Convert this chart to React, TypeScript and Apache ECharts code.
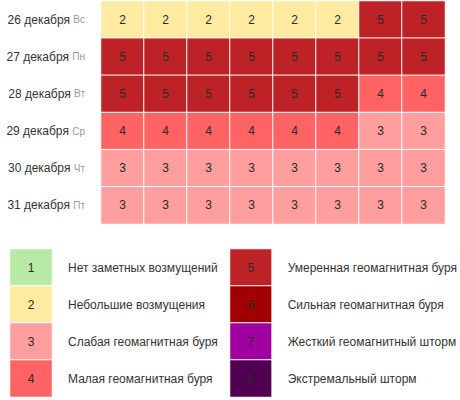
import React, { useEffect, useRef } from "react";
import * as echarts from "echarts";

const dates = ["26 декабря", "27 декабря", "28 декабря", "29 декабря", "30 декабря", "31 декабря"];
const weekdays = ["Вс", "Пн", "Вт", "Ср", "Чт", "Пт"];
const slots = ["1", "2", "3", "4", "5", "6", "7", "8"];
const kpIndex: number[][] = [
  [2, 2, 2, 2, 2, 2, 5, 5],
  [5, 5, 5, 5, 5, 5, 5, 5],
  [5, 5, 5, 5, 5, 5, 4, 4],
  [4, 4, 4, 4, 4, 4, 3, 3],
  [3, 3, 3, 3, 3, 3, 3, 3],
  [3, 3, 3, 3, 3, 3, 3, 3],
];
const levels = [1, 2, 3, 4, 5, 6, 7, 8];
const levelColors = ["#b8e9a5", "#feeaa0", "#ff9e9e", "#ff6363", "#bd2226", "#a00000", "#a000a0", "#500050"];
const levelNames = [
  "Нет заметных возмущений",
  "Небольшие возмущения",
  "Слабая геомагнитная буря",
  "Малая геомагнитная буря",
  "Умеренная геомагнитная буря",
  "Сильная геомагнитная буря",
  "Жесткий геомагнитный шторм",
  "Экстремальный шторм",
];

const FONT = "'Liberation Sans', Arial, sans-serif";

export default function App() {
  const ref = useRef<HTMLDivElement>(null);
  useEffect(() => {
    document.body.style.margin = "0";
    if (!ref.current) return;
    const chart = echarts.init(ref.current, null, { renderer: "svg" });

    const mainData: number[][] = [];
    kpIndex.forEach((row, r) => row.forEach((v, c) => mainData.push([c, r, v])));

    const leftLevels = levels.slice(0, 4);
    const rightLevels = levels.slice(4);
    const leftData = leftLevels.map((v, i) => [0, i, v]);
    const rightData = rightLevels.map((v, i) => [0, i, v]);

    const cellLabel = {
      show: true,
      color: "#2a2a2a",
      fontSize: 12,
      fontFamily: FONT,
    };
    const itemStyle = { borderColor: "#ffffff", borderWidth: 1 };

    chart.setOption({
      animation: false,
      textStyle: { fontFamily: FONT },
      visualMap: {
        show: false,
        type: "piecewise",
        dimension: 2,
        seriesIndex: [0, 1, 2],
        pieces: levels.map((v, i) => ({ value: v, color: levelColors[i] })),
      },
      grid: [
        { left: 101, top: 1, width: 344, height: 223 },
        { left: 10, top: 249, width: 42, height: 148 },
        { left: 230, top: 249, width: 42, height: 148 },
      ],
      xAxis: [
        { type: "category", data: slots, gridIndex: 0, show: false },
        { type: "category", data: ["a"], gridIndex: 1, show: false },
        { type: "category", data: ["b"], gridIndex: 2, show: false },
      ],
      yAxis: [
        {
          type: "category",
          gridIndex: 0,
          inverse: true,
          data: dates,
          axisLine: { show: false },
          axisTick: { show: false },
          splitLine: { show: false },
          axisLabel: {
            margin: 16,
            formatter: (v: string, i: number) => `{a|${v}} {b|${weekdays[i]}}`,
            rich: {
              a: { fontSize: 12, color: "#333333", fontFamily: FONT },
              b: { fontSize: 10, color: "#999999", fontFamily: FONT },
            },
          },
        },
        {
          type: "category",
          gridIndex: 1,
          inverse: true,
          position: "right",
          data: levelNames.slice(0, 4),
          axisLine: { show: false },
          axisTick: { show: false },
          axisLabel: { margin: 16, fontSize: 12, color: "#333333", fontFamily: FONT },
        },
        {
          type: "category",
          gridIndex: 2,
          inverse: true,
          position: "right",
          data: levelNames.slice(4),
          axisLine: { show: false },
          axisTick: { show: false },
          axisLabel: { margin: 16, fontSize: 12, color: "#333333", fontFamily: FONT },
        },
      ],
      series: [
        {
          type: "heatmap",
          xAxisIndex: 0,
          yAxisIndex: 0,
          data: mainData,
          label: cellLabel,
          itemStyle,
        },
        {
          type: "heatmap",
          xAxisIndex: 1,
          yAxisIndex: 1,
          data: leftData,
          label: cellLabel,
          itemStyle,
        },
        {
          type: "heatmap",
          xAxisIndex: 2,
          yAxisIndex: 2,
          data: rightData,
          label: cellLabel,
          itemStyle,
        },
      ],
    });
    return () => chart.dispose();
  }, []);
  return <div ref={ref} style={{ width: 460, height: 400 }} />;
}
